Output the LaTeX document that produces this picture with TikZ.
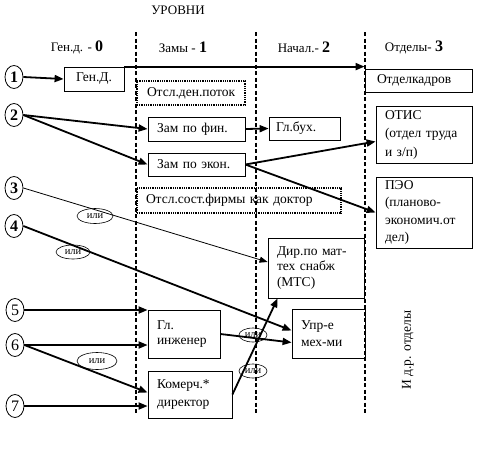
\documentclass[tikz,border=0pt]{standalone}
\usepackage{fontspec}
\setmainfont{Liberation Serif}
\usetikzlibrary{arrows.meta,shapes.geometric,calc}
\begin{document}
\begin{tikzpicture}[x=1pt,y=-1pt,
  box/.style={draw, line width=0.8pt, align=left, inner ysep=0pt, font=\fontsize{13.5}{17.5}\selectfont},
  dbox/.style={box, densely dotted, line width=1.3pt},
  circ/.style={draw, ellipse, line width=0.8pt, minimum width=18pt, minimum height=23pt, inner sep=0pt, font=\fontsize{16}{16}\selectfont},
  ili/.style={draw, ellipse, line width=0.6pt, inner sep=0pt, font=\fontsize{10.5}{10.5}\selectfont},
  arr/.style={-{Triangle[length=9pt,width=7pt]}, line width=1.8pt},
  tarr/.style={-{Triangle[length=8pt,width=6pt]}, line width=0.8pt},
  lev/.style={dash pattern=on 4pt off 2.5pt, line width=1.5pt},
  hd/.style={font=\fontsize{13}{13}\selectfont}
]
\useasboundingbox (0,0) rectangle (480,459);

% level separators
\draw[lev] (136,32) -- (136,415);
\draw[lev] (256,32) -- (256,415);
\draw[lev] (365,32) -- (365,415);

% headings
\node[hd] (title) at (178,10) {УРОВНИ};
\node[hd] (h0) at (77,47) {Ген.д. - {\fontsize{16}{16}\selectfont\bfseries 0}};
\node[hd] (h1) at (183,47) {Замы - {\fontsize{16}{16}\selectfont\bfseries 1}};
\node[hd] (h2) at (304,47) {Начал.- {\fontsize{16}{16}\selectfont\bfseries 2}};
\node[hd] (h3) at (414,47) {Отделы- {\fontsize{16}{16}\selectfont\bfseries 3}};

% numbered circles
\node[circ] (c1) at (14,77) {\bfseries 1};
\node[circ] (c2) at (14,115) {\bfseries 2};
\node[circ] (c3) at (14,188) {\bfseries 3};
\node[circ] (c4) at (14,226) {\bfseries 4};
\node[circ] (c5) at (15,310) {5};
\node[circ] (c6) at (15,345) {6};
\node[circ] (c7) at (15,406) {7};

% boxes
\node[box, align=center, minimum width=60pt, minimum height=24pt] (gend) at (94,79) {Ген.Д.};
\node[box, minimum width=107pt, minimum height=23pt, text width=83pt, inner xsep=12pt] (otdk) at (418.5,80.5) {Отделкадров};
\node[dbox, minimum width=108pt, minimum height=24pt, text width=88pt, inner xsep=10pt] (den) at (191,93) {Отсл.ден.поток};
\node[box, minimum width=97pt, minimum height=24pt, text width=79pt, inner xsep=9pt] (zfin) at (196.5,129) {Зам по фин.};
\node[box, minimum width=97pt, minimum height=23pt, text width=79pt, inner xsep=9pt] (zekon) at (196.5,164.5) {Зам по экон.};
\node[box, minimum width=71pt, minimum height=23pt, text width=57pt, inner xsep=7pt] (glbuh) at (304.5,128.5) {Гл.бух.};
\node[box, minimum width=96pt, minimum height=57pt, text width=78pt, inner xsep=9pt, font=\fontsize{13.5}{18.5}\selectfont] (otis) at (424,134.5) {ОТИС\\(отдел труда\\и з/п)};
\node[box, minimum width=96pt, minimum height=71pt, text width=78pt, inner xsep=9pt] (peo) at (424,212.5) {ПЭО\\(планово-\\экономич.от\\дел)};
\node[dbox, minimum width=204pt, minimum height=25pt, text width=186pt, inner xsep=9pt] (sost) at (239,200.5) {Отсл.сост.фирмы как доктор};
\node[box, minimum width=96pt, minimum height=60pt, text width=78pt, inner xsep=9pt, font=\fontsize{13.5}{15.5}\selectfont] (dir) at (316,268) {Дир.по мат-\\тех снабж\\(МТС)};
\node[box, minimum width=73pt, minimum height=49pt, text width=55pt, inner xsep=9pt] (upr) at (328.5,333.5) {Упр-е\\мех-ми};
\node[box, minimum width=72pt, minimum height=48pt, text width=54pt, inner xsep=9pt, font=\fontsize{13.5}{15.5}\selectfont] (glinzh) at (184,334) {Гл.\\инженер};
\node[box, minimum width=84pt, minimum height=47pt, text width=66pt, inner xsep=9pt] (komerch) at (190,394.5) {Комерч.*\\директор};

% "или" marks
\node[ili, minimum width=36pt, minimum height=15pt] (i1) at (95,216) {или};
\node[ili, minimum width=34pt, minimum height=14pt] (i2) at (73,252) {или};
\node[ili, minimum width=40pt, minimum height=17pt] (i3) at (97,361) {или};
\node[ili, minimum width=28pt, minimum height=14pt] (i4) at (253,335) {или};
\node[ili, minimum width=28pt, minimum height=14pt] (i5) at (253,371) {или};

% vertical note
\node[rotate=90, font=\fontsize{13.5}{13.5}\selectfont] (idr) at (408,350) {И д.р. отделы};

% connectors
\draw[arr] (c1.east) -- (gend.west);
\draw[arr] (gend.north east) -- (gend.north east -| otdk.west);
\draw[arr] (c2.east) -- (zfin.west);
\draw[arr] (c2.east) -- (zekon.west);
\draw[arr] (zfin.east) -- (glbuh.west);
\draw[arr] (zekon.east) -- ([yshift=-7pt]otis.west);
\draw[arr] (zekon.east) -- (peo.west);
\draw[tarr] (c3.east) -- ([yshift=6pt]dir.west);
\draw[arr] (c4.east) -- ([yshift=3pt]upr.west);
\draw[arr] (c5.east) -- (c5.east -| glinzh.west);
\draw[arr] (c6.east) -- (c6.east -| glinzh.west);
\draw[arr] (c6.east) -- ([yshift=2pt]komerch.west);
\draw[arr] (c7.east) -- (c7.east -| komerch.west);
\draw[arr] (glinzh.east) -- ([yshift=-9pt]upr.west);
\draw[arr] (komerch.east) -- ([xshift=10pt]dir.south west);
\end{tikzpicture}
\end{document}
